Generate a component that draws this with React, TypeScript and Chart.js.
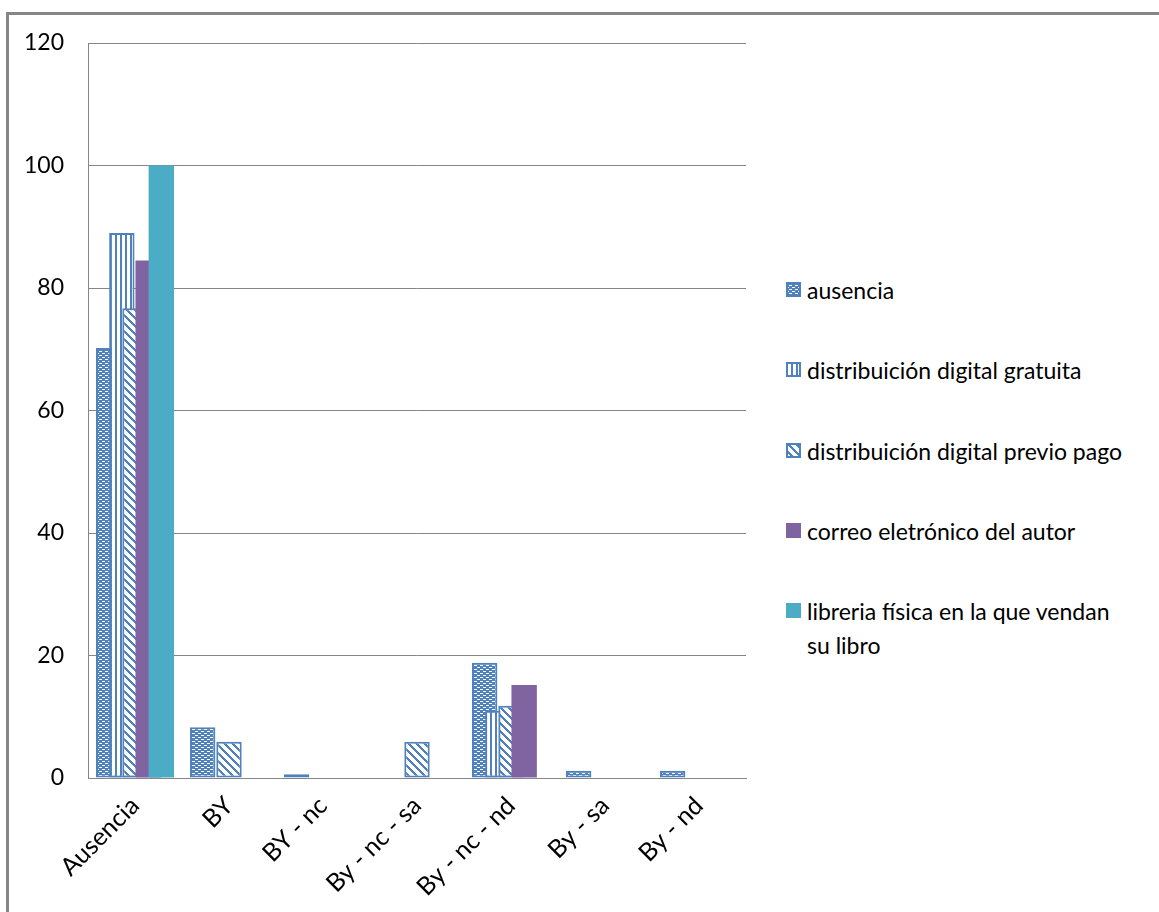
import React, { useEffect, useRef } from "react";
import { Chart, registerables } from "chart.js";

Chart.register(...registerables);

const categories = ["Ausencia", "BY", "BY - nc", "By - nc - sa", "By - nc - nd", "By - sa", "By - nd"];
const seriesNames = [
  "ausencia",
  "distribuición digital gratuita",
  "distribuición digital previo pago",
  "correo eletrónico del autor",
  "libreria física en la que vendan su libro",
];
const ausencia = [70.2, 8.3, 0.6, 0, 18.8, 1.2, 1.2];
const gratuita = [89, 0, 0, 0, 11, 0, 0];
const previoPago = [76.7, 5.9, 0, 5.9, 11.8, 0, 0];
const correo = [84.5, 0, 0, 0, 15.2, 0, 0];
const libreria = [100, 0, 0, 0, 0, 0, 0];
const yTicks = [0, 20, 40, 60, 80, 100, 120];

const BLUE = "#4F81BD";
const PURPLE = "#8064A2";
const TEAL = "#4BACC6";
const GRID = "#868686";
const FONT = "Lato, 'Open Sans', sans-serif";

type Kind = "dots" | "vert" | "diag" | "solid";
const kinds: Kind[] = ["dots", "vert", "diag", "solid", "solid"];
const solidColors = [BLUE, BLUE, BLUE, PURPLE, TEAL];

function makeTile(kind: Kind): HTMLCanvasElement {
  const c = document.createElement("canvas");
  const g = c.getContext("2d")!;
  if (kind === "dots") {
    c.width = 6;
    c.height = 4;
    g.fillStyle = BLUE;
    g.fillRect(0, 0, 6, 4);
    g.fillStyle = "#ffffff";
    g.fillRect(0, 1, 3, 1);
    g.fillRect(3, 3, 3, 1);
  } else if (kind === "vert") {
    c.width = 5;
    c.height = 1;
    g.fillStyle = "#ffffff";
    g.fillRect(0, 0, 5, 1);
    g.fillStyle = BLUE;
    g.fillRect(0, 0, 2, 1);
  } else {
    c.width = 8;
    c.height = 8;
    g.fillStyle = "#ffffff";
    g.fillRect(0, 0, 8, 8);
    g.fillStyle = BLUE;
    for (let x = 0; x < 8; x++) {
      for (let y = 0; y < 8; y++) {
        if ((((x - y) % 8) + 8) % 8 < 3) g.fillRect(x, y, 1, 1);
      }
    }
  }
  return c;
}

function fillFor(ctx: CanvasRenderingContext2D, i: number): string | CanvasPattern {
  const k = kinds[i];
  if (k === "solid") return solidColors[i];
  return ctx.createPattern(makeTile(k), "repeat")!;
}

const drawOrderPlugin = {
  id: "drawOrder",
  beforeDatasetsDraw(chart: any) {
    for (let i = 0; i < chart.data.datasets.length; i++) {
      const meta = chart.getDatasetMeta(i);
      if (meta.visible !== false) meta.controller.draw();
    }
    return false;
  },
};

export default function App() {
  const canvasRef = useRef<HTMLCanvasElement | null>(null);
  const swatchRefs = useRef<(HTMLCanvasElement | null)[]>([]);

  useEffect(() => {
    const canvas = canvasRef.current!;
    const ctx = canvas.getContext("2d")!;
    const values = [ausencia, gratuita, previoPago, correo, libreria];
    const chart = new Chart(ctx, {
      type: "bar",
      data: {
        labels: categories,
        datasets: values.map((v, i) => ({
          label: seriesNames[i],
          data: v,
          backgroundColor: fillFor(ctx, i),
          borderColor: kinds[i] === "solid" ? solidColors[i] : BLUE,
          borderWidth: kinds[i] === "solid" ? 0 : 2,
          borderSkipped: false,
          categoryPercentage: 0.7,
          barPercentage: 1.93,
        })),
      },
      options: {
        responsive: false,
        animation: false,
        devicePixelRatio: 1,
        layout: { padding: { top: 43, right: 14, left: 0, bottom: 0 } },
        plugins: { legend: { display: false }, tooltip: { enabled: false } },
        scales: {
          x: {
            grid: { display: false, drawTicks: false },
            border: { display: true, color: GRID, width: 1 },
            ticks: {
              autoSkip: false,
              maxRotation: 45,
              minRotation: 45,
              padding: 13,
              color: "#000",
              font: { family: FONT, size: 25 },
            },
            afterFit: (s: any) => {
              s.height = 134;
            },
          },
          y: {
            min: 0,
            max: 120,
            afterBuildTicks: (s: any) => {
              s.ticks = yTicks.map((v) => ({ value: v }));
            },
            grid: { color: GRID, lineWidth: 1, drawTicks: false },
            border: { display: true, color: GRID, width: 1 },
            ticks: {
              padding: 24,
              color: "#000",
              font: { family: FONT, size: 23 },
            },
            afterFit: (s: any) => {
              s.width = 88;
            },
          },
        },
      },
      plugins: [drawOrderPlugin],
    });

    swatchRefs.current.forEach((sc, i) => {
      if (!sc) return;
      const g = sc.getContext("2d")!;
      g.clearRect(0, 0, sc.width, sc.height);
      g.fillStyle = fillFor(g, i);
      g.fillRect(0, 0, sc.width, sc.height);
      if (kinds[i] !== "solid") {
        g.strokeStyle = BLUE;
        g.lineWidth = 2;
        g.strokeRect(1, 1, sc.width - 2, sc.height - 2);
      }
    });

    return () => chart.destroy();
  }, []);

  const legendTops = [273, 353, 434, 514, 594];

  return (
    <div
      style={{
        position: "fixed",
        left: 0,
        top: 0,
        width: 1159,
        height: 912,
        background: "#fff",
        overflow: "hidden",
      }}
    >
      <div
        style={{
          position: "absolute",
          left: 6,
          top: 12,
          width: 1300,
          height: 1100,
          borderTop: `3px solid ${GRID}`,
          borderLeft: `3px solid ${GRID}`,
        }}
      />
      <canvas
        ref={canvasRef}
        width={760}
        height={912}
        style={{ position: "absolute", left: 0, top: 0, width: 760, height: 912 }}
      />
      {seriesNames.map((name, i) => (
        <div
          key={name}
          style={{
            position: "absolute",
            left: 786,
            top: legendTops[i],
            width: 360,
            display: "flex",
            alignItems: "flex-start",
            fontFamily: FONT,
            fontSize: 23,
            lineHeight: "34px",
            color: "#000",
          }}
        >
          <canvas
            ref={(el) => {
              swatchRefs.current[i] = el;
            }}
            width={15}
            height={15}
            style={{ width: 15, height: 15, marginTop: 9, marginRight: 6, flex: "none" }}
          />
          <span style={{ width: 320, whiteSpace: "normal" }}>{name}</span>
        </div>
      ))}
    </div>
  );
}
